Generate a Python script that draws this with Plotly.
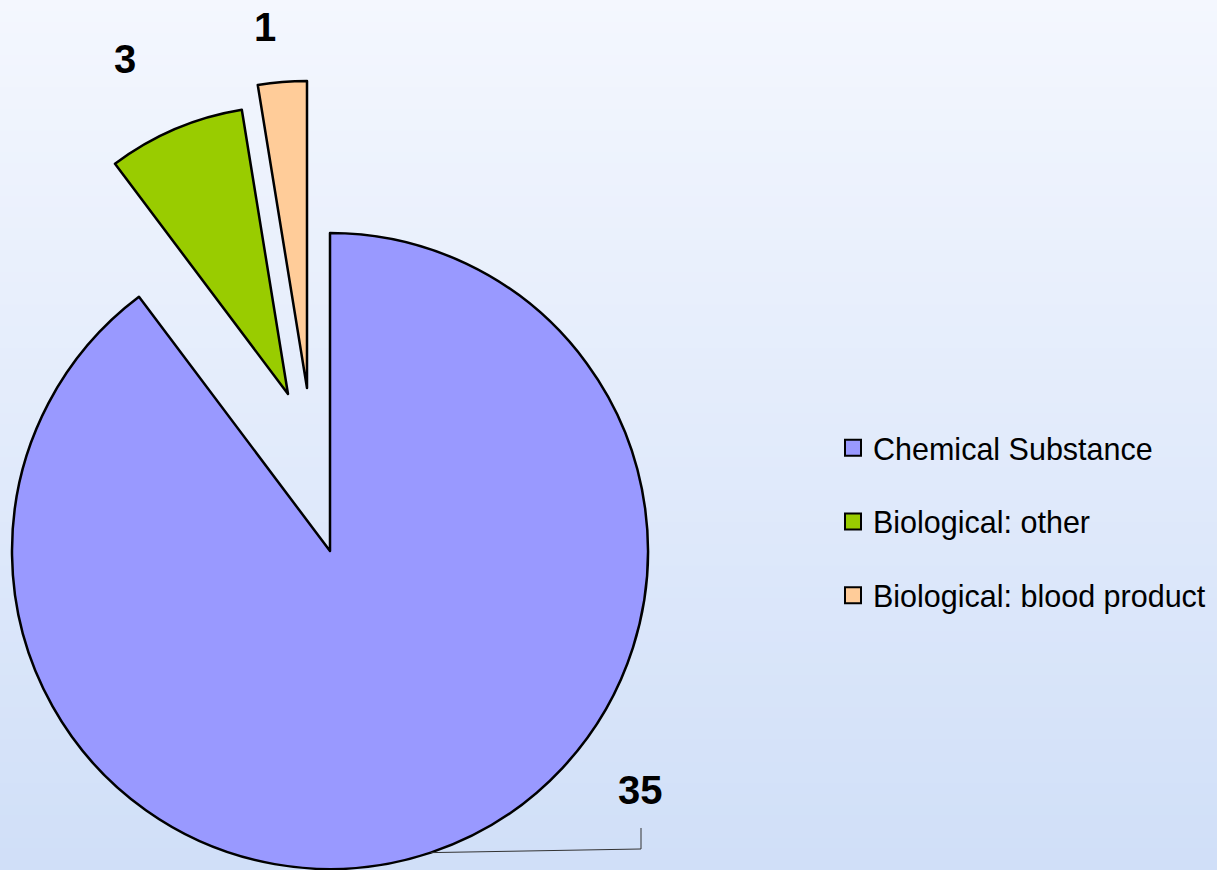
import math
import plotly.graph_objects as go

# ---- data ----
labels = ["Chemical Substance", "Biological: other", "Biological: blood product"]
values = [35, 3, 1]
colors = ["#9999FF", "#99CC00", "#FFCC99"]

# ---- layout constants (pixels) ----
W, H = 1217, 870
TRANSPARENT = "rgba(0,0,0,0)"
# (slice index, apex x, apex y, radius) - each exploded slice drawn by its own pie
pie_geom = [(0, 330, 551, 318), (1, 288, 394, 288), (2, 307, 388, 307)]
# value-label centres (pixels)
label_pos = [(640, 790), (125, 59), (265, 27)]


def dom(cx, cy, r):
    return dict(x=[(cx - r) / W, (cx + r) / W],
                y=[1 - (cy + r) / H, 1 - (cy - r) / H])


fig = go.Figure()
for idx, cx, cy, r in pie_geom:
    fig.add_trace(go.Pie(
        labels=labels, values=values, sort=False, direction="clockwise", rotation=0,
        marker=dict(colors=[c if i == idx else TRANSPARENT for i, c in enumerate(colors)],
                    line=dict(color="#000000", width=[2.5 if i == idx else 0 for i in range(len(values))])),
        textinfo="none", hoverinfo="label+value", showlegend=False,
        domain=dom(cx, cy, r)))

# legend entries
for i, (lab, c) in enumerate(zip(labels, colors)):
    fig.add_trace(go.Scatter(
        x=[None], y=[None], mode="markers", name=lab, legendgroup=f"g{i}",
        marker=dict(symbol="square", size=16, color=c, line=dict(color="#000000", width=2)),
        hoverinfo="skip", showlegend=True))

# value labels
annotations = []
for v, (px, py) in zip(values, label_pos):
    annotations.append(dict(
        x=px / W, y=1 - py / H, xref="paper", yref="paper", text="<b>%d</b>" % v, showarrow=False,
        xanchor="center", yanchor="middle",
        font=dict(family="Liberation Sans, Arial, sans-serif", size=40, color="#000000")))

shapes = []
# background gradient (top -> bottom)
top = (244, 247, 254)
bot = (208, 223, 248)
N = 80
for k in range(N):
    t = (k + 0.5) / N
    col = tuple(round(top[j] + (bot[j] - top[j]) * t) for j in range(3))
    shapes.append(dict(type="rect", xref="paper", yref="paper", x0=0, x1=1,
                       y0=1 - (k + 1) / N - 0.002, y1=1 - k / N,
                       fillcolor="rgb(%d,%d,%d)" % col, line=dict(width=0), layer="below"))

# leader line for the large slice, starting at its mid-angle on the arc
_, cxA, cyA, rA = pie_geom[0]
mid = (values[0] / 2) / sum(values) * 2 * math.pi
sx, sy = cxA + rA * math.sin(mid), cyA - rA * math.cos(mid)
ex, ey_h, ey_v = 641, 849, 828
path = "M %f,%f L %f,%f L %f,%f" % (sx / W, 1 - sy / H, ex / W, 1 - ey_h / H, ex / W, 1 - ey_v / H)
shapes.append(dict(type="path", xref="paper", yref="paper", path=path,
                   line=dict(color="#333333", width=1), layer="above"))

fig.update_layout(
    width=W, height=H, margin=dict(l=0, r=0, t=0, b=0),
    paper_bgcolor="rgb(226,235,251)", plot_bgcolor="rgba(0,0,0,0)",
    xaxis=dict(visible=False), yaxis=dict(visible=False),
    showlegend=True,
    legend=dict(x=833 / W, y=1 - 521.5 / H, xanchor="left", yanchor="middle",
                bgcolor="rgba(0,0,0,0)", borderwidth=0, tracegroupgap=31,
                font=dict(family="Liberation Sans, Arial, sans-serif", size=30.5, color="#000000")),
    annotations=annotations, shapes=shapes,
)

fig.write_html("out.html", config={"displayModeBar": False},
               post_script="document.body.style.margin='0';document.body.style.overflow='hidden';")
